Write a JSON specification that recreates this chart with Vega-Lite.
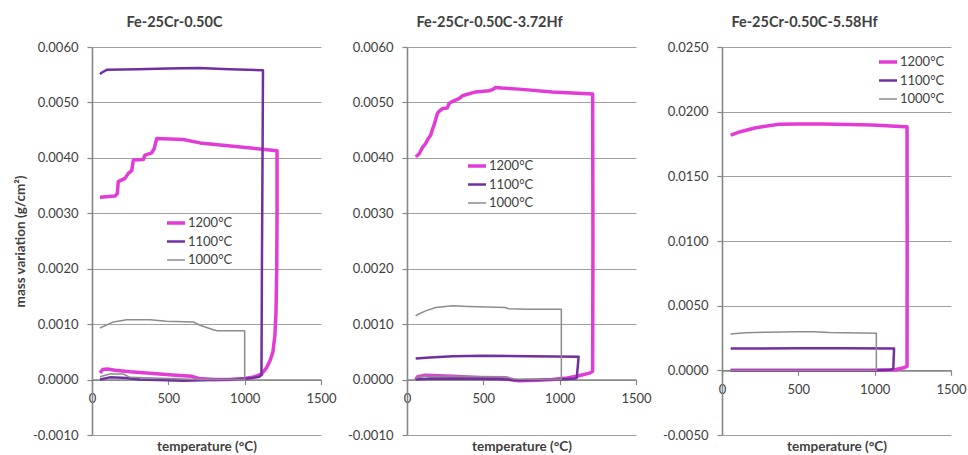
{
  "$schema": "https://vega.github.io/schema/vega-lite/v6.json",
  "padding": {"left": 13, "top": 14, "right": 5, "bottom": 0},
  "background": "white",
  "bounds": "flush",
  "spacing": 86,
  "datasets": {
    "pts": [
      {"p":"A","s":"1200°C","i":0,"t":52,"v":0.00012},
      {"p":"A","s":"1200°C","i":1,"t":70,"v":0.00018},
      {"p":"A","s":"1200°C","i":2,"t":100,"v":0.00019},
      {"p":"A","s":"1200°C","i":3,"t":150,"v":0.00017},
      {"p":"A","s":"1200°C","i":4,"t":250,"v":0.00014},
      {"p":"A","s":"1200°C","i":5,"t":400,"v":0.00011},
      {"p":"A","s":"1200°C","i":6,"t":550,"v":0.00008},
      {"p":"A","s":"1200°C","i":7,"t":650,"v":0.00006},
      {"p":"A","s":"1200°C","i":8,"t":700,"v":0.00002},
      {"p":"A","s":"1200°C","i":9,"t":800,"v":0.0},
      {"p":"A","s":"1200°C","i":10,"t":900,"v":0.0},
      {"p":"A","s":"1200°C","i":11,"t":1000,"v":0.00002},
      {"p":"A","s":"1200°C","i":12,"t":1050,"v":0.00004},
      {"p":"A","s":"1200°C","i":13,"t":1110,"v":0.0001},
      {"p":"A","s":"1200°C","i":14,"t":1140,"v":0.0002},
      {"p":"A","s":"1200°C","i":15,"t":1166,"v":0.00034},
      {"p":"A","s":"1200°C","i":16,"t":1185,"v":0.0005},
      {"p":"A","s":"1200°C","i":17,"t":1198,"v":0.0008},
      {"p":"A","s":"1200°C","i":18,"t":1205,"v":0.0012},
      {"p":"A","s":"1200°C","i":19,"t":1210,"v":0.002},
      {"p":"A","s":"1200°C","i":20,"t":1212,"v":0.003},
      {"p":"A","s":"1200°C","i":21,"t":1212,"v":0.00413},
      {"p":"A","s":"1200°C","i":22,"t":1100,"v":0.00416},
      {"p":"A","s":"1200°C","i":23,"t":707,"v":0.00427},
      {"p":"A","s":"1200°C","i":24,"t":598,"v":0.00433},
      {"p":"A","s":"1200°C","i":25,"t":424,"v":0.00435},
      {"p":"A","s":"1200°C","i":26,"t":408,"v":0.00417},
      {"p":"A","s":"1200°C","i":27,"t":391,"v":0.00409},
      {"p":"A","s":"1200°C","i":28,"t":347,"v":0.00405},
      {"p":"A","s":"1200°C","i":29,"t":336,"v":0.00397},
      {"p":"A","s":"1200°C","i":30,"t":271,"v":0.00396},
      {"p":"A","s":"1200°C","i":31,"t":260,"v":0.00377},
      {"p":"A","s":"1200°C","i":32,"t":238,"v":0.00372},
      {"p":"A","s":"1200°C","i":33,"t":216,"v":0.00363},
      {"p":"A","s":"1200°C","i":34,"t":172,"v":0.00357},
      {"p":"A","s":"1200°C","i":35,"t":166,"v":0.00336},
      {"p":"A","s":"1200°C","i":36,"t":151,"v":0.00331},
      {"p":"A","s":"1200°C","i":37,"t":52,"v":0.00329},
      {"p":"A","s":"1100°C","i":0,"t":52,"v":0.0},
      {"p":"A","s":"1100°C","i":1,"t":117,"v":0.00004},
      {"p":"A","s":"1100°C","i":2,"t":227,"v":0.00003},
      {"p":"A","s":"1100°C","i":3,"t":315,"v":0.0},
      {"p":"A","s":"1100°C","i":4,"t":598,"v":-0.00002},
      {"p":"A","s":"1100°C","i":5,"t":926,"v":0.0},
      {"p":"A","s":"1100°C","i":6,"t":1050,"v":0.00003},
      {"p":"A","s":"1100°C","i":7,"t":1096,"v":0.00005},
      {"p":"A","s":"1100°C","i":8,"t":1110,"v":0.00008},
      {"p":"A","s":"1100°C","i":9,"t":1113,"v":0.002},
      {"p":"A","s":"1100°C","i":10,"t":1118,"v":0.0045},
      {"p":"A","s":"1100°C","i":11,"t":1120,"v":0.00558},
      {"p":"A","s":"1100°C","i":12,"t":900,"v":0.0056},
      {"p":"A","s":"1100°C","i":13,"t":700,"v":0.00562},
      {"p":"A","s":"1100°C","i":14,"t":500,"v":0.00561},
      {"p":"A","s":"1100°C","i":15,"t":300,"v":0.0056},
      {"p":"A","s":"1100°C","i":16,"t":100,"v":0.00559},
      {"p":"A","s":"1100°C","i":17,"t":65,"v":0.00554},
      {"p":"A","s":"1100°C","i":18,"t":52,"v":0.00551},
      {"p":"A","s":"1000°C","i":0,"t":52,"v":0.00005},
      {"p":"A","s":"1000°C","i":1,"t":117,"v":0.0001},
      {"p":"A","s":"1000°C","i":2,"t":205,"v":0.0001},
      {"p":"A","s":"1000°C","i":3,"t":249,"v":0.00004},
      {"p":"A","s":"1000°C","i":4,"t":500,"v":0.00002},
      {"p":"A","s":"1000°C","i":5,"t":700,"v":0.0},
      {"p":"A","s":"1000°C","i":6,"t":1000,"v":0.0},
      {"p":"A","s":"1000°C","i":7,"t":1000,"v":0.00088},
      {"p":"A","s":"1000°C","i":8,"t":820,"v":0.00088},
      {"p":"A","s":"1000°C","i":9,"t":795,"v":0.0009},
      {"p":"A","s":"1000°C","i":10,"t":707,"v":0.00098},
      {"p":"A","s":"1000°C","i":11,"t":664,"v":0.00104},
      {"p":"A","s":"1000°C","i":12,"t":489,"v":0.00105},
      {"p":"A","s":"1000°C","i":13,"t":380,"v":0.00108},
      {"p":"A","s":"1000°C","i":14,"t":227,"v":0.00108},
      {"p":"A","s":"1000°C","i":15,"t":140,"v":0.00104},
      {"p":"A","s":"1000°C","i":16,"t":52,"v":0.00093},
      {"p":"B","s":"1200°C","i":0,"t":57,"v":0.0},
      {"p":"B","s":"1200°C","i":1,"t":70,"v":0.00005},
      {"p":"B","s":"1200°C","i":2,"t":120,"v":0.00008},
      {"p":"B","s":"1200°C","i":3,"t":300,"v":0.00006},
      {"p":"B","s":"1200°C","i":4,"t":515,"v":0.00003},
      {"p":"B","s":"1200°C","i":5,"t":650,"v":0.00001},
      {"p":"B","s":"1200°C","i":6,"t":734,"v":-0.00002},
      {"p":"B","s":"1200°C","i":7,"t":850,"v":-0.00001},
      {"p":"B","s":"1200°C","i":8,"t":952,"v":0.0},
      {"p":"B","s":"1200°C","i":9,"t":1050,"v":0.00003},
      {"p":"B","s":"1200°C","i":10,"t":1127,"v":0.00007},
      {"p":"B","s":"1200°C","i":11,"t":1200,"v":0.00012},
      {"p":"B","s":"1200°C","i":12,"t":1216,"v":0.00015},
      {"p":"B","s":"1200°C","i":13,"t":1218,"v":0.0025},
      {"p":"B","s":"1200°C","i":14,"t":1216,"v":0.00515},
      {"p":"B","s":"1200°C","i":15,"t":952,"v":0.00519},
      {"p":"B","s":"1200°C","i":16,"t":734,"v":0.00524},
      {"p":"B","s":"1200°C","i":17,"t":620,"v":0.00526},
      {"p":"B","s":"1200°C","i":18,"t":581,"v":0.00527},
      {"p":"B","s":"1200°C","i":19,"t":560,"v":0.00523},
      {"p":"B","s":"1200°C","i":20,"t":537,"v":0.00521},
      {"p":"B","s":"1200°C","i":21,"t":450,"v":0.00519},
      {"p":"B","s":"1200°C","i":22,"t":363,"v":0.00512},
      {"p":"B","s":"1200°C","i":23,"t":341,"v":0.00507},
      {"p":"B","s":"1200°C","i":24,"t":300,"v":0.00502},
      {"p":"B","s":"1200°C","i":25,"t":275,"v":0.00498},
      {"p":"B","s":"1200°C","i":26,"t":264,"v":0.0049},
      {"p":"B","s":"1200°C","i":27,"t":232,"v":0.00489},
      {"p":"B","s":"1200°C","i":28,"t":210,"v":0.00484},
      {"p":"B","s":"1200°C","i":29,"t":199,"v":0.0048},
      {"p":"B","s":"1200°C","i":30,"t":177,"v":0.00459},
      {"p":"B","s":"1200°C","i":31,"t":165,"v":0.0045},
      {"p":"B","s":"1200°C","i":32,"t":155,"v":0.00441},
      {"p":"B","s":"1200°C","i":33,"t":140,"v":0.00435},
      {"p":"B","s":"1200°C","i":34,"t":122,"v":0.00426},
      {"p":"B","s":"1200°C","i":35,"t":100,"v":0.00418},
      {"p":"B","s":"1200°C","i":36,"t":79,"v":0.00407},
      {"p":"B","s":"1200°C","i":37,"t":57,"v":0.00402},
      {"p":"B","s":"1100°C","i":0,"t":57,"v":0.0},
      {"p":"B","s":"1100°C","i":1,"t":150,"v":0.00002},
      {"p":"B","s":"1100°C","i":2,"t":600,"v":0.00001},
      {"p":"B","s":"1100°C","i":3,"t":700,"v":-0.00001},
      {"p":"B","s":"1100°C","i":4,"t":1000,"v":0.0},
      {"p":"B","s":"1100°C","i":5,"t":1100,"v":0.00002},
      {"p":"B","s":"1100°C","i":6,"t":1112,"v":0.00003},
      {"p":"B","s":"1100°C","i":7,"t":1124,"v":0.00041},
      {"p":"B","s":"1100°C","i":8,"t":800,"v":0.00042},
      {"p":"B","s":"1100°C","i":9,"t":500,"v":0.00043},
      {"p":"B","s":"1100°C","i":10,"t":300,"v":0.00042},
      {"p":"B","s":"1100°C","i":11,"t":150,"v":0.0004},
      {"p":"B","s":"1100°C","i":12,"t":57,"v":0.00038},
      {"p":"B","s":"1000°C","i":0,"t":57,"v":0.00003},
      {"p":"B","s":"1000°C","i":1,"t":100,"v":0.00006},
      {"p":"B","s":"1000°C","i":2,"t":300,"v":0.00006},
      {"p":"B","s":"1000°C","i":3,"t":650,"v":0.00005},
      {"p":"B","s":"1000°C","i":4,"t":700,"v":0.00001},
      {"p":"B","s":"1000°C","i":5,"t":900,"v":0.0},
      {"p":"B","s":"1000°C","i":6,"t":1011,"v":0.0},
      {"p":"B","s":"1000°C","i":7,"t":1011,"v":0.00127},
      {"p":"B","s":"1000°C","i":8,"t":800,"v":0.00127},
      {"p":"B","s":"1000°C","i":9,"t":660,"v":0.00128},
      {"p":"B","s":"1000°C","i":10,"t":645,"v":0.0013},
      {"p":"B","s":"1000°C","i":11,"t":400,"v":0.00132},
      {"p":"B","s":"1000°C","i":12,"t":297,"v":0.00133},
      {"p":"B","s":"1000°C","i":13,"t":188,"v":0.0013},
      {"p":"B","s":"1000°C","i":14,"t":122,"v":0.00124},
      {"p":"B","s":"1000°C","i":15,"t":68,"v":0.00117},
      {"p":"B","s":"1000°C","i":16,"t":57,"v":0.00115},
      {"p":"C","s":"1200°C","i":0,"t":57,"v":0.0},
      {"p":"C","s":"1200°C","i":1,"t":500,"v":0.0},
      {"p":"C","s":"1200°C","i":2,"t":1000,"v":0.0},
      {"p":"C","s":"1200°C","i":3,"t":1133,"v":0.00005},
      {"p":"C","s":"1200°C","i":4,"t":1190,"v":0.0002},
      {"p":"C","s":"1200°C","i":5,"t":1212,"v":0.0003},
      {"p":"C","s":"1200°C","i":6,"t":1213,"v":0.01},
      {"p":"C","s":"1200°C","i":7,"t":1212,"v":0.01884},
      {"p":"C","s":"1200°C","i":8,"t":1200,"v":0.01884},
      {"p":"C","s":"1200°C","i":9,"t":985,"v":0.01897},
      {"p":"C","s":"1200°C","i":10,"t":657,"v":0.01905},
      {"p":"C","s":"1200°C","i":11,"t":500,"v":0.01905},
      {"p":"C","s":"1200°C","i":12,"t":373,"v":0.01902},
      {"p":"C","s":"1200°C","i":13,"t":221,"v":0.01876},
      {"p":"C","s":"1200°C","i":14,"t":120,"v":0.01845},
      {"p":"C","s":"1200°C","i":15,"t":57,"v":0.01819},
      {"p":"C","s":"1100°C","i":0,"t":57,"v":0.0},
      {"p":"C","s":"1100°C","i":1,"t":1000,"v":0.0},
      {"p":"C","s":"1100°C","i":2,"t":1100,"v":0.00005},
      {"p":"C","s":"1100°C","i":3,"t":1122,"v":0.0001},
      {"p":"C","s":"1100°C","i":4,"t":1127,"v":0.00169},
      {"p":"C","s":"1100°C","i":5,"t":800,"v":0.0017},
      {"p":"C","s":"1100°C","i":6,"t":500,"v":0.0017},
      {"p":"C","s":"1100°C","i":7,"t":57,"v":0.00168},
      {"p":"C","s":"1000°C","i":0,"t":57,"v":0.0},
      {"p":"C","s":"1000°C","i":1,"t":1011,"v":0.0},
      {"p":"C","s":"1000°C","i":2,"t":1011,"v":0.00286},
      {"p":"C","s":"1000°C","i":3,"t":700,"v":0.00292},
      {"p":"C","s":"1000°C","i":4,"t":600,"v":0.00298},
      {"p":"C","s":"1000°C","i":5,"t":500,"v":0.00299},
      {"p":"C","s":"1000°C","i":6,"t":300,"v":0.00295},
      {"p":"C","s":"1000°C","i":7,"t":150,"v":0.0029},
      {"p":"C","s":"1000°C","i":8,"t":57,"v":0.00281}
    ]
  },
  "data": {"name": "pts"},
  "resolve": {"scale": {"x": "independent", "y": "independent", "color": "independent", "strokeWidth": "independent"}, "legend": {"color": "independent", "strokeWidth": "independent"}},
  "hconcat": [
    {
      "width": 229, "height": 388,
      "title": {"text": "Fe-25Cr-0.50C", "dx": -32},
      "transform": [{"filter": "datum.p === 'A'"}],
      "mark": {"type": "line", "strokeJoin": "round", "strokeCap": "butt"},
      "encoding": {
        "x": {"field": "t", "type": "quantitative", "scale": {"domain": [0, 1500], "nice": false},
              "axis": {"values": [0, 500, 1000, 1500], "format": "d", "offset": -55.43, "title": "temperature (°C)", "titleX": 114.5, "titleY": 66.5, "titleBaseline": "middle"}},
        "y": {"field": "v", "type": "quantitative", "scale": {"domain": [-0.001, 0.006], "nice": false, "zero": false},
              "axis": {"values": [-0.001, 0, 0.001, 0.002, 0.003, 0.004, 0.005, 0.006], "format": ".4f", "labelExpr": "replace(datum.label, '−', '-')", "title": "mass variation (g/cm²)", "titleX": -72, "titleY": 194, "titleBaseline": "middle", "titleAlign": "center", "titleAngle": -90}},
        "color": {"field": "s", "type": "nominal", "scale": {"domain": ["1200°C", "1100°C", "1000°C"], "range": ["#E23CD6", "#7030A0", "#8C8C8C"]},
                  "legend": {"title": null, "orient": "none", "legendX": 73, "legendY": 165}},
        "strokeWidth": {"field": "s", "type": "nominal", "scale": {"domain": ["1200°C", "1100°C", "1000°C"], "range": [3.5, 1.5], "padding": 0},
                  "legend": {"title": null, "orient": "none", "legendX": 73, "legendY": 165}},
        "order": {"field": "i", "type": "quantitative"}
      }
    },
    {
      "width": 229, "height": 388,
      "title": {"text": "Fe-25Cr-0.50C-3.72Hf", "dx": -32},
      "transform": [{"filter": "datum.p === 'B'"}],
      "mark": {"type": "line", "strokeJoin": "round", "strokeCap": "butt"},
      "encoding": {
        "x": {"field": "t", "type": "quantitative", "scale": {"domain": [0, 1500], "nice": false},
              "axis": {"values": [0, 500, 1000, 1500], "format": "d", "offset": -55.43, "title": "temperature (°C)", "titleX": 114.5, "titleY": 66.5, "titleBaseline": "middle"}},
        "y": {"field": "v", "type": "quantitative", "scale": {"domain": [-0.001, 0.006], "nice": false, "zero": false},
              "axis": {"values": [-0.001, 0, 0.001, 0.002, 0.003, 0.004, 0.005, 0.006], "format": ".4f", "labelExpr": "replace(datum.label, '−', '-')", "title": null}},
        "color": {"field": "s", "type": "nominal", "scale": {"domain": ["1200°C", "1100°C", "1000°C"], "range": ["#E23CD6", "#7030A0", "#8C8C8C"]},
                  "legend": {"title": null, "orient": "none", "legendX": 59, "legendY": 108}},
        "strokeWidth": {"field": "s", "type": "nominal", "scale": {"domain": ["1200°C", "1100°C", "1000°C"], "range": [3.5, 1.5], "padding": 0},
                  "legend": {"title": null, "orient": "none", "legendX": 59, "legendY": 108}},
        "order": {"field": "i", "type": "quantitative"}
      }
    },
    {
      "width": 229, "height": 388,
      "title": {"text": "Fe-25Cr-0.50C-5.58Hf", "dx": -32},
      "transform": [{"filter": "datum.p === 'C'"}],
      "mark": {"type": "line", "strokeJoin": "round", "strokeCap": "butt"},
      "encoding": {
        "x": {"field": "t", "type": "quantitative", "scale": {"domain": [0, 1500], "nice": false},
              "axis": {"values": [0, 500, 1000, 1500], "format": "d", "offset": -64.67, "title": "temperature (°C)", "titleX": 114.5, "titleY": 75.8, "titleBaseline": "middle"}},
        "y": {"field": "v", "type": "quantitative", "scale": {"domain": [-0.005, 0.025], "nice": false, "zero": false},
              "axis": {"values": [-0.005, 0, 0.005, 0.01, 0.015, 0.02, 0.025], "format": ".4f", "labelExpr": "replace(datum.label, '−', '-')", "title": null}},
        "color": {"field": "s", "type": "nominal", "scale": {"domain": ["1200°C", "1100°C", "1000°C"], "range": ["#E23CD6", "#7030A0", "#8C8C8C"]},
                  "legend": {"title": null, "orient": "none", "legendX": 155, "legendY": 4}},
        "strokeWidth": {"field": "s", "type": "nominal", "scale": {"domain": ["1200°C", "1100°C", "1000°C"], "range": [3.5, 1.5], "padding": 0},
                  "legend": {"title": null, "orient": "none", "legendX": 155, "legendY": 4}},
        "order": {"field": "i", "type": "quantitative"}
      }
    }
  ],
  "config": {
    "font": "Lato",
    "view": {"stroke": null},
    "title": {"font": "Lato", "fontSize": 14.5, "fontWeight": "bold", "color": "#404040", "anchor": "middle", "offset": 11},
    "axis": {
      "labelFont": "Lato", "labelFontSize": 13, "labelColor": "#404040",
      "domainColor": "#868686", "domainWidth": 1.6,
      "tickColor": "#868686", "tickSize": 5, "tickWidth": 1.2,
      "gridColor": "#a0a0a0", "gridWidth": 1,
      "titleFont": "Lato", "titleFontSize": 13.5, "titleFontWeight": "bold", "titleColor": "#404040"
    },
    "axisY": {"labelPadding": 9},
    "axisX": {"grid": false, "labelPadding": 8, "labelFlush": false, "labelOverlap": false},
    "legend": {"labelFont": "Lato", "labelFontSize": 13, "labelColor": "#404040", "symbolType": "stroke", "symbolSize": 324, "labelOffset": 1, "rowPadding": 1}
  }
}
